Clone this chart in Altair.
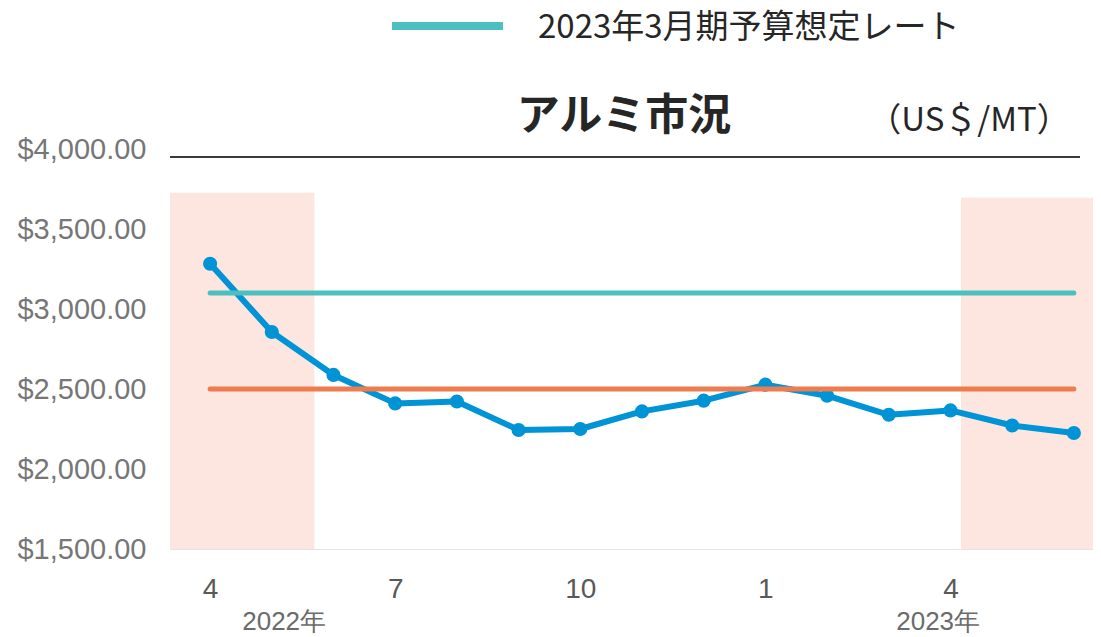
import altair as alt
import pandas as pd

# ---- data ----
month_idx = list(range(15))
month_names = ["2022-04", "2022-05", "2022-06", "2022-07", "2022-08", "2022-09", "2022-10",
               "2022-11", "2022-12", "2023-01", "2023-02", "2023-03", "2023-04", "2023-05", "2023-06"]
price = [3283, 2856, 2588, 2410, 2422, 2244, 2250, 2360, 2427, 2527, 2458, 2339, 2366, 2272, 2225]

budget_rate = 3100        # 2023年3月期予算想定レート
other_rate = 2500

tick_values = [0, 3, 6, 9, 12]
tick_labels = ["4", "7", "10", "1", "4"]

year_pos = [1.2, 11.8]
year_labels = ["2022年", "2023年"]

shade_x0 = [-0.65, 12.17]
shade_x1 = [1.69, 14.31]
shade_top = [3727, 3696]
shade_bottom = [1500, 1500]

y_ticks = [1500, 2000, 2500, 3000, 3500, 4000]

title_text = "アルミ市況"
unit_text = "（US＄/MT）"
legend_text = "2023年3月期予算想定レート"

# ---- tables ----
df = pd.DataFrame({"i": month_idx, "month": month_names, "price": price})
ref = pd.DataFrame({
    "i": [month_idx[0], month_idx[-1], month_idx[0], month_idx[-1]],
    "v": [budget_rate, budget_rate, other_rate, other_rate],
    "s": ["budget", "budget", "other", "other"],
})
shade = pd.DataFrame({"x0": shade_x0, "x1": shade_x1, "y0": shade_bottom, "y1": shade_top})
years = pd.DataFrame({"x": year_pos, "t": year_labels})
one = pd.DataFrame({"k": [0]})

LAT = "Liberation Sans, Arial, sans-serif"
CJK = "Noto Sans CJK JP"

xs = alt.Scale(domain=[-0.65, 14.31], nice=False, zero=False)
ys = alt.Scale(domain=[1500, 4000], nice=False, zero=False)

label_expr = "[" + ",".join("'" + t + "'" for t in tick_labels) + "][indexof([" + \
    ",".join(str(v) for v in tick_values) + "], datum.value)]"

x_axis = alt.Axis(values=tick_values, labelExpr=label_expr, title=None, grid=False, ticks=False,
                  domain=True, domainColor="#e3e3e3", domainWidth=1,
                  labelFont=LAT, labelFontSize=28, labelColor="#595959",
                  labelPadding=26, labelFlush=False)
y_axis = alt.Axis(values=y_ticks, format="$,.2f", title=None, grid=False, ticks=False, domain=False,
                  labelFont=LAT, labelFontSize=29, labelColor="#767676", labelPadding=24)

base = alt.Chart(df)

hatch = alt.Chart(shade).mark_rect(fill="#fce6df", opacity=1).encode(
    x=alt.X("x0:Q", scale=xs, axis=x_axis),
    x2="x1:Q",
    y=alt.Y("y0:Q", scale=ys, axis=y_axis),
    y2="y1:Q",
)

line = base.mark_line(color="#0093d6", strokeWidth=6, strokeJoin="round").encode(
    x=alt.X("i:Q", scale=xs), y=alt.Y("price:Q", scale=ys))
pts = base.mark_circle(color="#0093d6", size=200, opacity=1).encode(
    x=alt.X("i:Q", scale=xs), y=alt.Y("price:Q", scale=ys))

refs = alt.Chart(ref).mark_line(strokeWidth=5, strokeCap="round").encode(
    x=alt.X("i:Q", scale=xs), y=alt.Y("v:Q", scale=ys),
    detail="s:N",
    color=alt.Color("s:N", scale=alt.Scale(domain=["budget", "other"], range=["#4cbfbf", "#ed7d4f"]),
                    legend=None),
)

yr = alt.Chart(years).mark_text(font=LAT, fontSize=26, color="#6b6b6b", baseline="middle").encode(
    x=alt.X("x:Q", scale=xs), y=alt.value(473), text="t:N")

title = alt.Chart(one).mark_text(font=CJK, fontSize=43, fontWeight="bold", color="#262626",
                                 baseline="middle").encode(
    x=alt.value(454), y=alt.value(-32), text=alt.value(title_text))
unit = alt.Chart(one).mark_text(font=CJK, fontSize=33, color="#262626", baseline="middle").encode(
    x=alt.value(799), y=alt.value(-28), text=alt.value(unit_text))
underline = alt.Chart(one).mark_rule(color="#3a3a3a", strokeWidth=2).encode(
    x=alt.value(0), x2=alt.value(910), y=alt.value(8))
leg_line = alt.Chart(one).mark_rule(color="#4cbfbf", strokeWidth=8).encode(
    x=alt.value(222), x2=alt.value(333), y=alt.value(-123))
leg_text = alt.Chart(one).mark_text(font=CJK, fontSize=33, color="#262626", align="left",
                                    baseline="middle").encode(
    x=alt.value(368), y=alt.value(-121), text=alt.value(legend_text))

chart = alt.layer(hatch, line, pts, refs, yr, title, unit, underline, leg_line, leg_text).properties(
    width=923, height=400,
    padding={"left": 162, "top": 141, "right": 0, "bottom": 88},
    autosize=alt.AutoSizeParams(type="none"),
    background="white",
).configure_view(strokeWidth=0, stroke="transparent")

chart.save("out.html", embed_options={"renderer": "svg", "actions": False})
